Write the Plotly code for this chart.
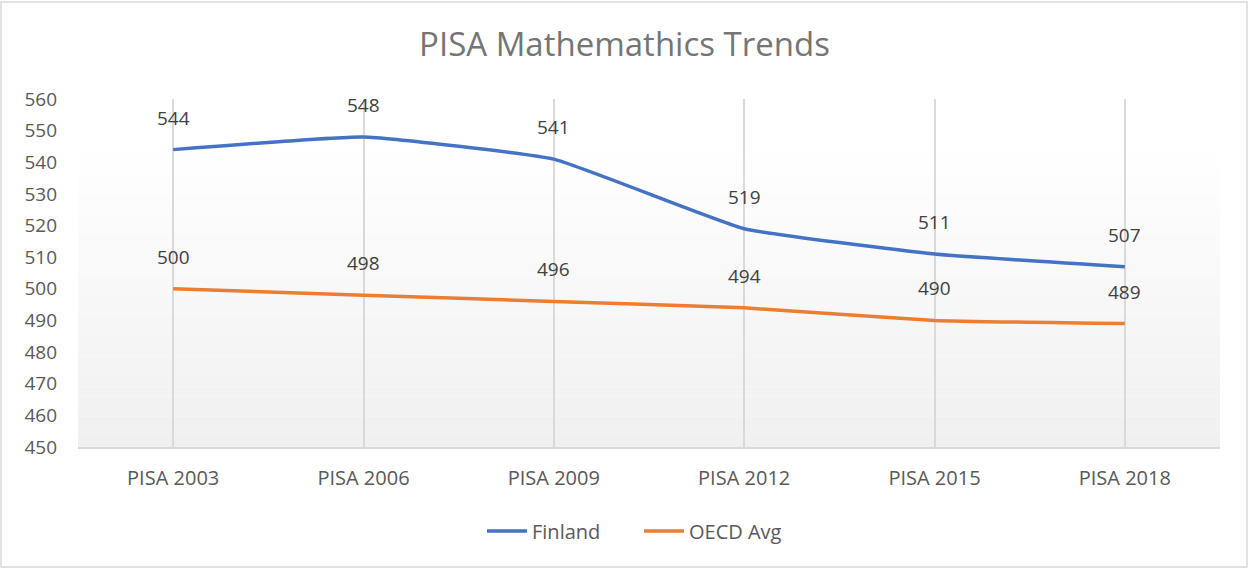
import plotly.graph_objects as go

categories = ["PISA 2003", "PISA 2006", "PISA 2009", "PISA 2012", "PISA 2015", "PISA 2018"]
finland = [544, 548, 541, 519, 511, 507]
oecd = [500, 498, 496, 494, 490, 489]
y_ticks = [450, 460, 470, 480, 490, 500, 510, 520, 530, 540, 550, 560]

FONT = "Open Sans"
fig = go.Figure()
fig.add_trace(go.Scatter(x=categories, y=finland, name="Finland", mode="lines",
                         line=dict(color="#4472C4", width=3.5, shape="spline", smoothing=0.35)))
fig.add_trace(go.Scatter(x=categories, y=oecd, name="OECD Avg", mode="lines",
                         line=dict(color="#ED7D31", width=3.5, shape="spline", smoothing=0.35)))

annotations = []
for series in (finland, oecd):
    for c, v in zip(categories, series):
        annotations.append(dict(x=c, y=v, text=str(v), showarrow=False, yshift=32,
                                font=dict(family=FONT, size=19, color="#404040")))

# gradient background of plot area
shapes = []
n = 30
top = 0.87
for i in range(n):
    y0 = top * i / n
    y1 = top * (i + 1) / n
    t = 1 - (i + 0.5) / n
    g = int(round(255 - t * (255 - 240)))
    shapes.append(dict(type="rect", xref="x domain", yref="y domain", x0=0, x1=1, y0=y0, y1=y1,
                       fillcolor=f"rgb({g},{g},{g})", line=dict(width=0), layer="below"))
# chart border
shapes.append(dict(type="rect", xref="paper", yref="paper", x0=-77/1142, x1=1+27/1142,
                   y0=-120/348, y1=1+97/348, line=dict(color="#d9d9d9", width=1.5), layer="below"))

fig.update_layout(
    width=1249, height=569,
    margin=dict(l=78, r=29, t=99, b=122, autoexpand=False),
    paper_bgcolor="white", plot_bgcolor="white",
    title=dict(text="PISA Mathemathics Trends", x=0.5, xref="container", xanchor="center",
               y=1 - 44/569, yanchor="middle",
               font=dict(family=FONT, size=33, color="#757575")),
    xaxis=dict(type="category", range=[-0.5, 5.5], showgrid=True, gridcolor="#d9d9d9", gridwidth=1.5,
               showline=True, linecolor="#d9d9d9", linewidth=1.5, ticks="", automargin=False,
               tickfont=dict(family=FONT, size=20, color="#595959"), ticklabelstandoff=12, fixedrange=True),
    yaxis=dict(range=[450, 560], tickvals=y_ticks, showgrid=False, zeroline=False, showline=False,
               ticks="", tickfont=dict(family=FONT, size=19, color="#595959"), ticklabelstandoff=20,
               automargin=False, fixedrange=True),
    legend=dict(orientation="h", x=(639 - 78) / 1142, xanchor="center", y=-84/348, yanchor="middle",
                font=dict(family=FONT, size=20, color="#595959"), itemwidth=40,
                entrywidth=102),
    annotations=annotations, shapes=shapes, showlegend=True, hovermode=False,
)
fig.write_html("out.html", config={"displayModeBar": False},
               post_script="document.body.style.margin='0';document.body.style.overflow='hidden';")
